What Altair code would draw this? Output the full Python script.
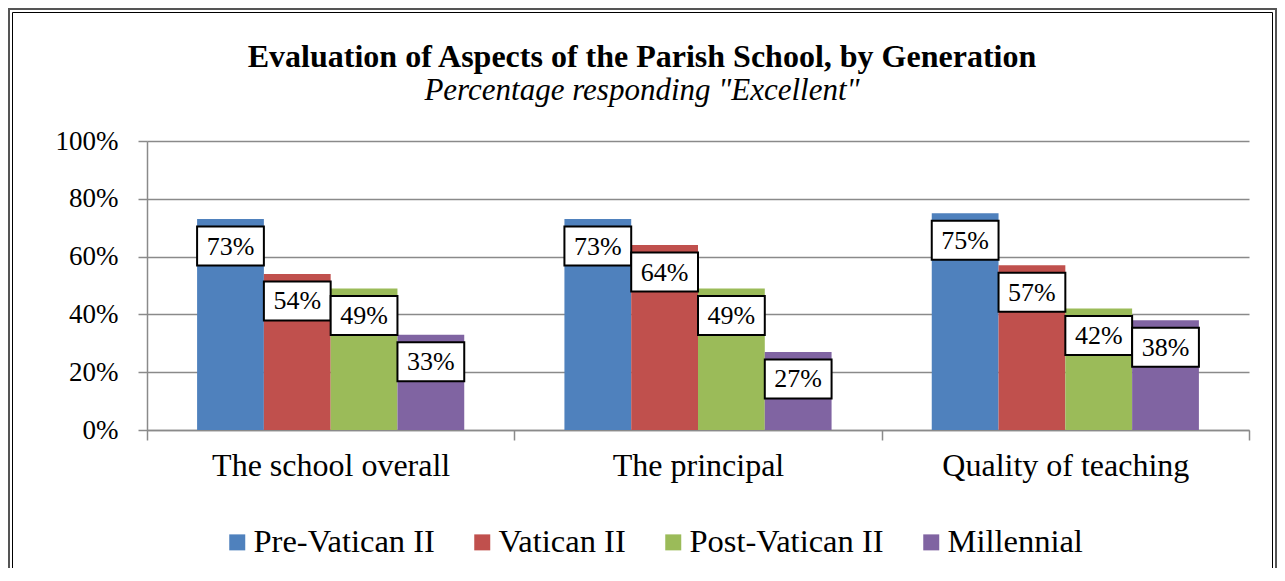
import altair as alt
import pandas as pd

# ---- data ----
categories = ["The school overall", "The principal", "Quality of teaching"]
generations = ["Pre-Vatican II", "Vatican II", "Post-Vatican II", "Millennial"]
pre_vatican = [73, 73, 75]
vatican = [54, 64, 57]
post_vatican = [49, 49, 42]
millennial = [33, 27, 38]
colors = ["#4F81BD", "#C0504D", "#9BBB59", "#8064A2"]
y_ticks = [0, 0.2, 0.4, 0.6, 0.8, 1.0]

rows = []
for gen, vals in zip(generations, [pre_vatican, vatican, post_vatican, millennial]):
    for cat, v in zip(categories, vals):
        rows.append({"aspect": cat, "generation": gen, "value": v / 100})
df = pd.DataFrame(rows)

W, H = 1102, 289
SERIF = "Liberation Serif"
GRAY = "#8a8a8a"

x = alt.X(
    "aspect:N", sort=categories, title=None,
    scale=alt.Scale(paddingInner=0, paddingOuter=0),
    axis=alt.Axis(labelAngle=0, labelFontSize=32, labelFont=SERIF, labelColor="black",
                  tickBand="extent", tickSize=10, tickColor=GRAY, tickWidth=1.5,
                  domainColor=GRAY, domainWidth=1.5, labelPadding=10, grid=False,
                  labelLimit=0),
)
xo = alt.XOffset("generation:N", sort=generations,
                 scale=alt.Scale(paddingOuter=0.75, paddingInner=0))
y = alt.Y(
    "value:Q", title=None, scale=alt.Scale(domain=[0, 1]),
    axis=alt.Axis(values=y_ticks, format=".0%", labelFontSize=27, labelFont=SERIF,
                  labelColor="black", tickSize=9, tickColor=GRAY, tickWidth=1.5,
                  domainColor=GRAY, domainWidth=1.5, gridColor=GRAY, gridWidth=1.5,
                  labelPadding=20, grid=True),
)

bars = alt.Chart(df).mark_bar().encode(
    x=x, xOffset=xo, y=y,
    color=alt.Color(
        "generation:N", sort=generations,
        scale=alt.Scale(domain=generations, range=colors),
        legend=alt.Legend(title=None, orient="none", direction="horizontal",
                          legendX=74, legendY=385, symbolType="square",
                          symbolSize=256, symbolStrokeWidth=0, labelFont=SERIF,
                          labelFontSize=32.5, labelColor="black", labelOffset=0,
                          columnPadding=31, labelLimit=0),
    ),
)

boxes = alt.Chart(df).mark_rect(
    fill="white", stroke="black", strokeWidth=2, yOffset=7.5, y2Offset=46.5
).encode(x=x, xOffset=xo, y=alt.Y("value:Q"), y2=alt.Y2("value:Q"))

labels = alt.Chart(df).mark_text(
    font=SERIF, fontSize=26, color="black", baseline="middle", yOffset=27.5
).encode(x=x, xOffset=xo, y=alt.Y("value:Q"),
         text=alt.Text("value:Q", format=".0%"))

one = alt.Data(values=[{}])
frame_outer = alt.Chart(one).mark_rect(
    fillOpacity=0, stroke="#555555", strokeWidth=2
).encode(x=alt.value(-138), x2=alt.value(1129), y=alt.value(-132), y2=alt.value(470))
frame_inner = alt.Chart(one).mark_rect(
    fillOpacity=0, stroke="#000000", strokeWidth=1
).encode(x=alt.value(-134.5), x2=alt.value(1125.5), y=alt.value(-128.5), y2=alt.value(470))

chart = alt.layer(frame_outer, frame_inner, bars, boxes, labels).properties(
    width=W, height=H,
    padding={"left": 139, "top": 133, "right": 28, "bottom": 138},
    autosize=alt.AutoSizeParams(type="none"),
    background="white",
    title=alt.TitleParams(
        text="Evaluation of Aspects of the Parish School, by Generation",
        subtitle='Percentage responding "Excellent"',
        font=SERIF, fontSize=32, fontWeight="bold", color="black",
        subtitleFont=SERIF, subtitleFontSize=31, subtitleFontStyle="italic",
        subtitleColor="black", anchor="middle", frame="group", dx=-56, offset=-99,
        subtitlePadding=2,
    ),
).configure_view(stroke=None)

chart.save("out.html", embed_options={"renderer": "svg", "actions": False})
